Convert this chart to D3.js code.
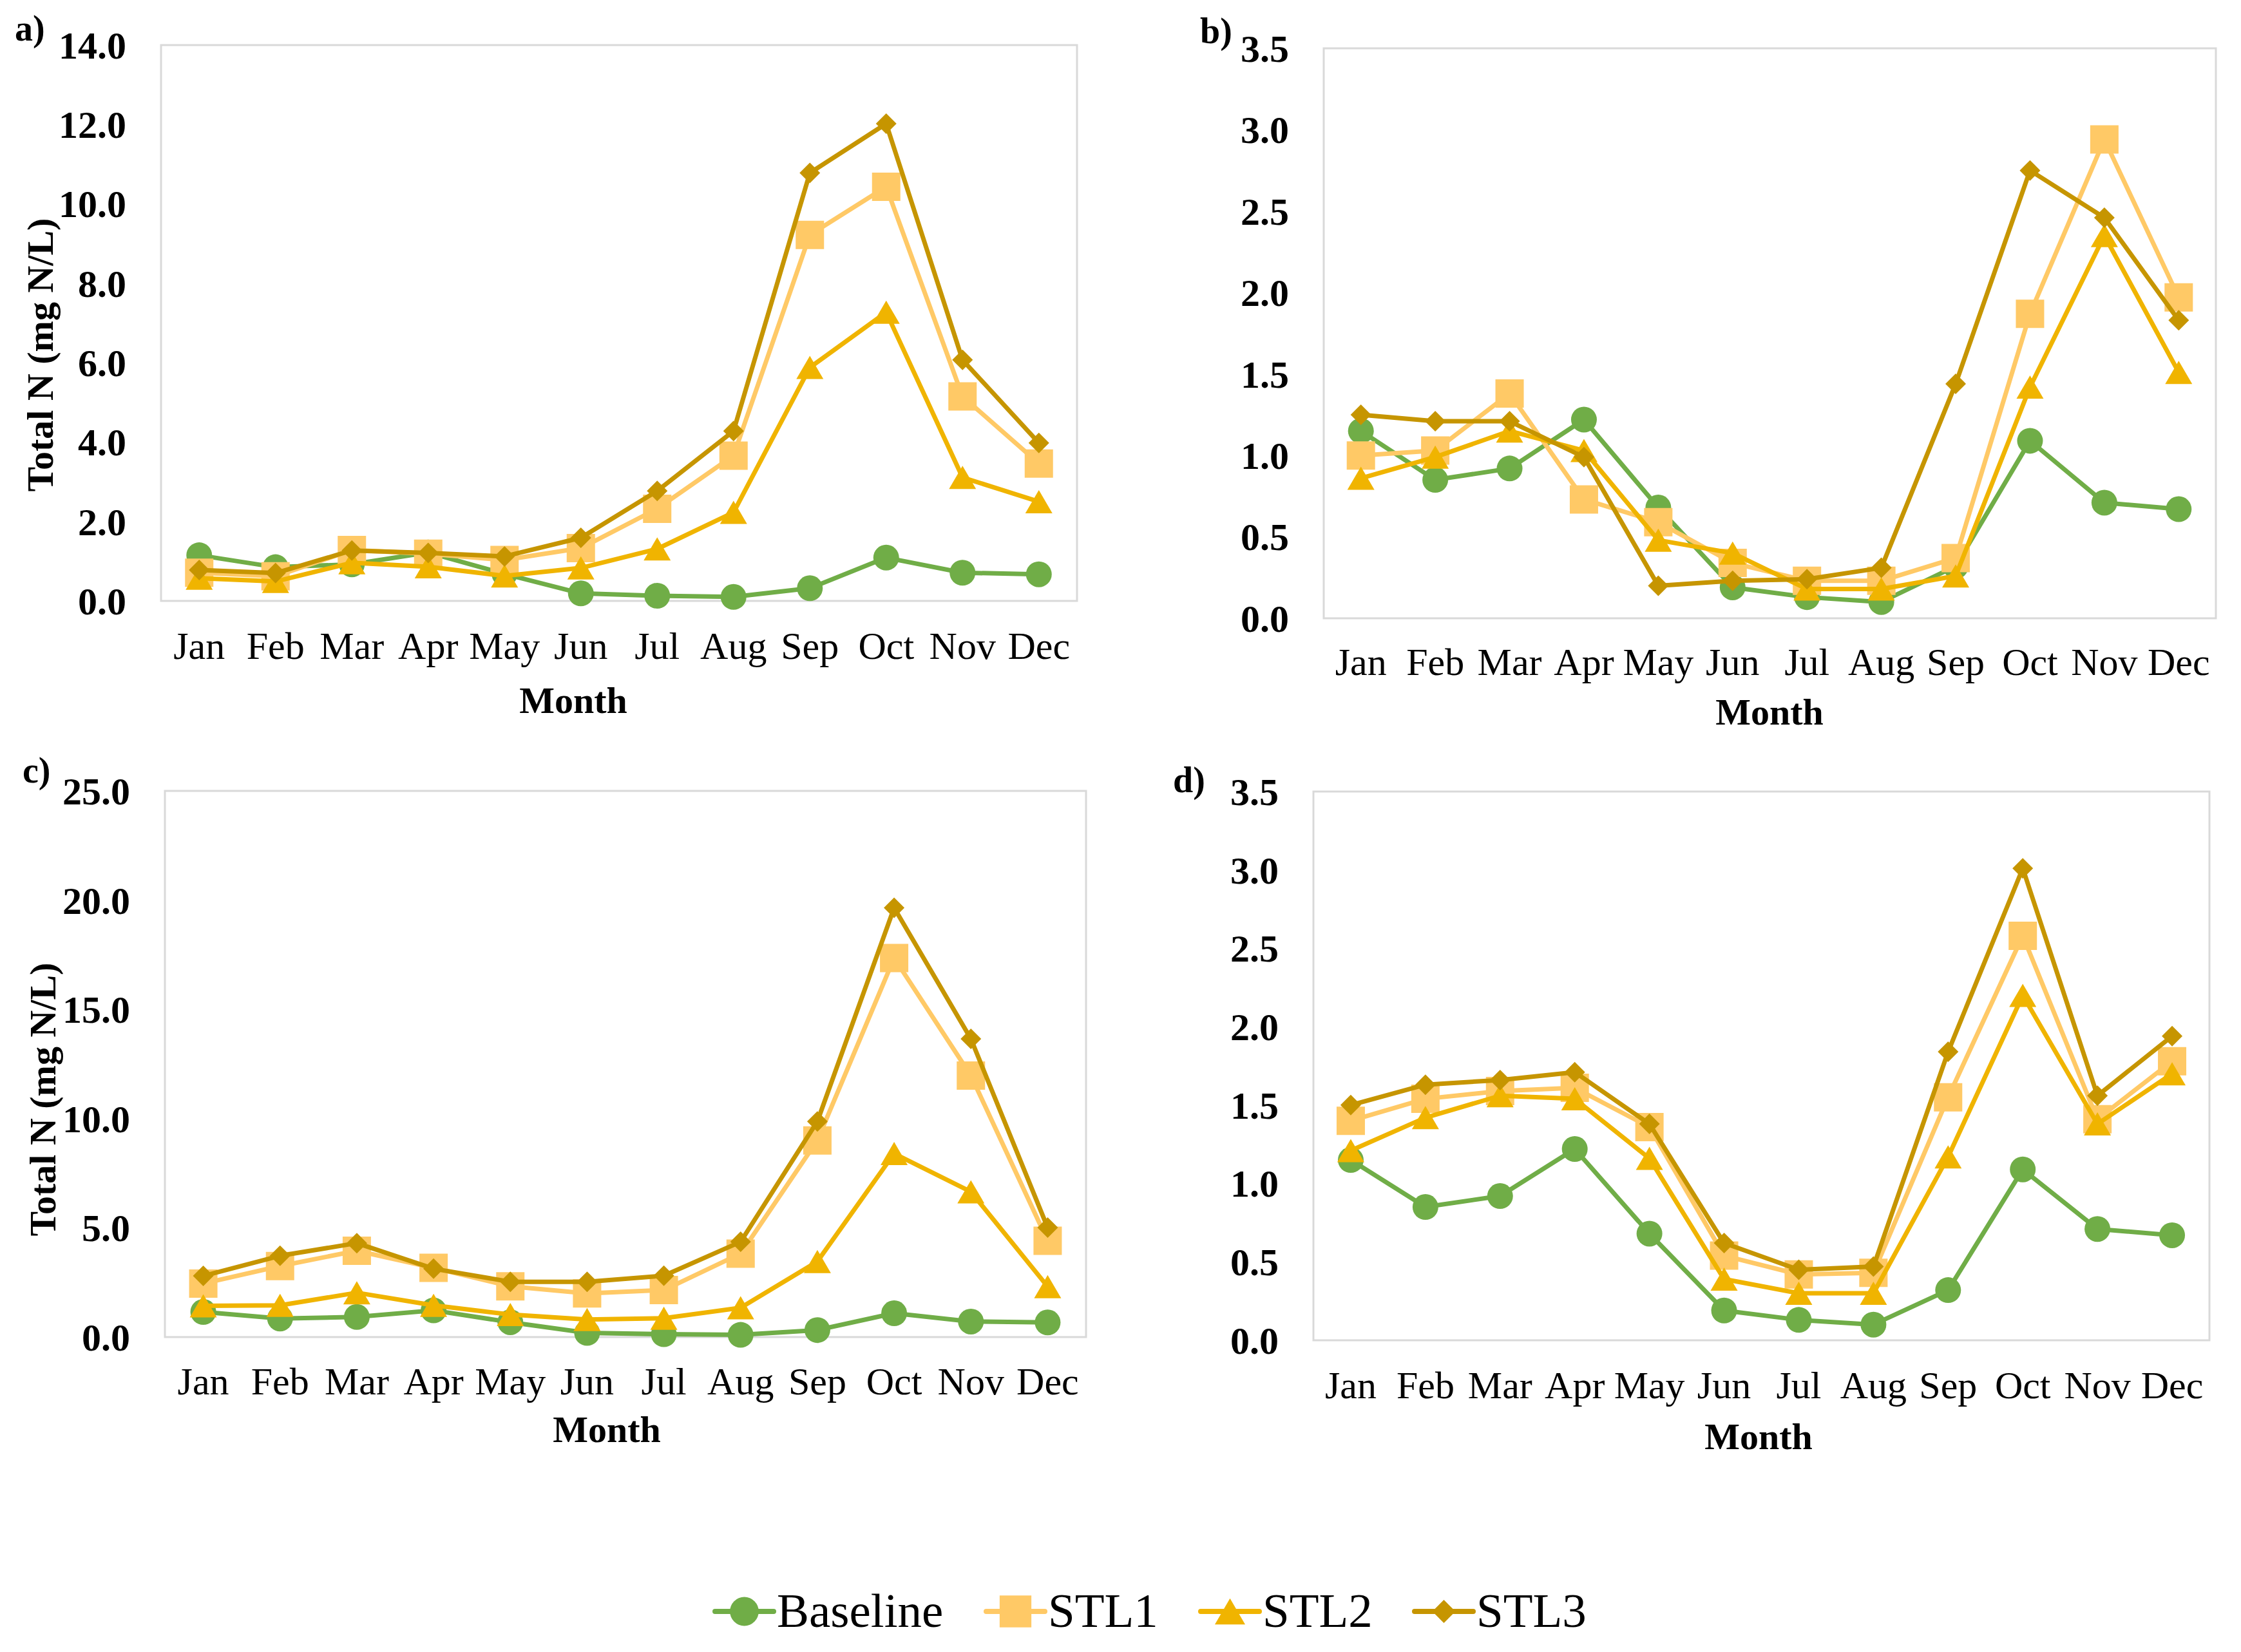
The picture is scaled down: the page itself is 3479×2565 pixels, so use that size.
<!DOCTYPE html>
<html>
<head>
<meta charset="utf-8">
<script src="https://cdnjs.cloudflare.com/ajax/libs/d3/7.8.5/d3.min.js"></script>
<style>
  body { margin: 0; background: #fff; }
  text { font-family: "Liberation Serif", "Times New Roman", serif; fill: #000; }
</style>
</head>
<body>
<script>
var months = ["Jan", "Feb", "Mar", "Apr", "May", "Jun", "Jul", "Aug", "Sep", "Oct", "Nov", "Dec"];
var seriesNames = ["Baseline", "STL1", "STL2", "STL3"];

// baseline is the same in all four panels
var baseline = [1.15, 0.85, 0.92, 1.22, 0.68, 0.19, 0.13, 0.10, 0.32, 1.09, 0.71, 0.67];

// panel a
var stl1A = [0.71, 0.62, 1.28, 1.19, 1.03, 1.33, 2.32, 3.66, 9.22, 10.43, 5.15, 3.46];
var stl2A = [0.57, 0.49, 0.96, 0.86, 0.63, 0.83, 1.31, 2.23, 5.88, 7.27, 3.11, 2.50];
var stl3A = [0.78, 0.70, 1.27, 1.21, 1.12, 1.59, 2.77, 4.28, 10.78, 12.02, 6.07, 3.98];
// panel b
var stl1B = [1.00, 1.03, 1.38, 0.73, 0.59, 0.34, 0.23, 0.23, 0.37, 1.87, 2.94, 1.97];
var stl2B = [0.86, 0.99, 1.15, 1.03, 0.48, 0.40, 0.18, 0.18, 0.26, 1.42, 2.35, 1.51];
var stl3B = [1.25, 1.21, 1.21, 0.99, 0.20, 0.23, 0.24, 0.31, 1.44, 2.75, 2.46, 1.83];
// panel c
var stl1C = [2.45, 3.25, 3.95, 3.17, 2.32, 2.00, 2.15, 3.82, 9.00, 17.35, 11.97, 4.41];
var stl2C = [1.43, 1.45, 2.03, 1.45, 1.03, 0.80, 0.86, 1.34, 3.46, 8.40, 6.65, 2.31];
var stl3C = [2.80, 3.72, 4.30, 3.13, 2.53, 2.53, 2.81, 4.36, 9.87, 19.65, 13.65, 5.01];
// panel d
var stl1D = [1.40, 1.54, 1.59, 1.61, 1.36, 0.54, 0.42, 0.43, 1.55, 2.58, 1.41, 1.78];
var stl2D = [1.21, 1.42, 1.56, 1.54, 1.16, 0.39, 0.30, 0.30, 1.17, 2.20, 1.38, 1.70];
var stl3D = [1.50, 1.63, 1.66, 1.71, 1.38, 0.62, 0.45, 0.47, 1.84, 3.01, 1.56, 1.94];

var ticksA = [0, 2, 4, 6, 8, 10, 12, 14];
var ticksB = [0, 0.5, 1, 1.5, 2, 2.5, 3, 3.5];
var ticksC = [0, 5, 10, 15, 20, 25];
var ticksD = [0, 0.5, 1, 1.5, 2, 2.5, 3, 3.5];

var colors = ["#70AD47", "#FFC966", "#F0B400", "#C69500"];
var shapes = ["circle", "square", "triangle", "diamond"];

var svg = d3.select("body").append("svg")
  .attr("width", 3479)
  .attr("height", 2565);

svg.append("rect").attr("width", 3479).attr("height", 2565).attr("fill", "#fff");

// marker path centred on 0,0; s = scale factor
function markerPath(shape, s) {
  var p = d3.path();
  if (shape == "circle") {
    var r = 20 * s;
    p.arc(0, 0, r, 0, 2 * Math.PI);
  } else if (shape == "square") {
    var h = 22 * s;
    p.rect(-h, -h, 2 * h, 2 * h);
  } else if (shape == "triangle") {
    var w = 21 * s, t = 18 * s;
    p.moveTo(0, -t); p.lineTo(w, t); p.lineTo(-w, t); p.closePath();
  } else {
    var d = 16 * s;
    p.moveTo(0, -d); p.lineTo(d, 0); p.lineTo(0, d); p.lineTo(-d, 0); p.closePath();
  }
  return p.toString();
}

var panels = [
  {label: "a)", lx: 23, ly: 63, L: 250, T: 70, R: 1672, B: 933, max: 14, ticks: ticksA,
   data: [baseline, stl1A, stl2A, stl3A], ytitle: [62, 551], xlab: 1023, month: [890, 1107]},
  {label: "b)", lx: 1863, ly: 67, L: 2055, T: 75, R: 3440, B: 960, max: 3.5, ticks: ticksB,
   data: [baseline, stl1B, stl2B, stl3B], ytitle: null, xlab: 1048, month: [2747, 1125]},
  {label: "c)", lx: 35, ly: 1215, L: 256, T: 1228, R: 1686, B: 2076, max: 25, ticks: ticksC,
   data: [baseline, stl1C, stl2C, stl3C], ytitle: [66, 1707], xlab: 2165, month: [942, 2239]},
  {label: "d)", lx: 1821, ly: 1230, L: 2039, T: 1229, R: 3430, B: 2081, max: 3.5, ticks: ticksD,
   data: [baseline, stl1D, stl2D, stl3D], ytitle: null, xlab: 2171, month: [2730, 2250]}
];

panels.forEach(drawPanel);

function drawPanel(cfg) {
  var g = svg.append("g");

  var x = d3.scaleBand().domain(months).range([cfg.L, cfg.R]);
  var y = d3.scaleLinear().domain([0, cfg.max]).range([cfg.B, cfg.T]);
  var cx = function(d, i) { return x(months[i]) + x.bandwidth() / 2; };

  g.append("rect")
    .attr("x", cfg.L).attr("y", cfg.T)
    .attr("width", cfg.R - cfg.L).attr("height", cfg.B - cfg.T)
    .attr("fill", "#fff")
    .attr("stroke", "#D9D9D9")
    .attr("stroke-width", 3);

  // y axis
  var yAxis = g.append("g")
    .attr("transform", "translate(" + cfg.L + ",0)")
    .call(d3.axisLeft(y).tickValues(cfg.ticks).tickFormat(d3.format(".1f")).tickSize(0).tickPadding(54));
  yAxis.select(".domain").remove();
  yAxis.selectAll("text")
    .attr("font-family", "Liberation Serif")
    .attr("font-weight", "bold")
    .attr("font-size", 60)
    .attr("dy", "0.34em");

  // x axis
  var xAxis = g.append("g")
    .attr("transform", "translate(0," + cfg.B + ")")
    .call(d3.axisBottom(x).tickSize(0));
  xAxis.select(".domain").remove();
  xAxis.selectAll("text")
    .attr("font-family", "Liberation Serif")
    .attr("font-size", 60)
    .attr("y", cfg.xlab - cfg.B)
    .attr("dy", 0);

  // panel label
  g.append("text")
    .attr("x", cfg.lx).attr("y", cfg.ly)
    .attr("font-size", 56)
    .attr("font-weight", "bold")
    .text(cfg.label);

  if (cfg.ytitle) {
    g.append("text")
      .attr("transform", "translate(" + cfg.ytitle[0] + "," + cfg.ytitle[1] + ") rotate(-90)")
      .attr("text-anchor", "middle")
      .attr("dy", "0.34em")
      .attr("font-size", 58)
      .attr("font-weight", "bold")
      .text("Total N (mg N/L)");
  }

  g.append("text")
    .attr("x", cfg.month[0]).attr("y", cfg.month[1])
    .attr("text-anchor", "middle")
    .attr("font-size", 58)
    .attr("font-weight", "bold")
    .text("Month");

  var line = d3.line().x(cx).y(function(d) { return y(d); });

  cfg.data.forEach(function(vals, k) {
    var sg = g.append("g");
    sg.append("path")
      .datum(vals)
      .attr("d", line)
      .attr("fill", "none")
      .attr("stroke", colors[k])
      .attr("stroke-width", 7)
      .attr("stroke-linejoin", "round")
      .attr("stroke-linecap", "round");

    sg.selectAll("path.marker")
      .data(vals)
      .enter()
      .append("path")
      .attr("class", "marker")
      .attr("transform", function(d, i) { return "translate(" + cx(d, i) + "," + y(d) + ")"; })
      .attr("d", markerPath(shapes[k], 1))
      .attr("fill", colors[k]);
  });
}

// legend
var legendX = [1110, 1531, 1864, 2196];
var legendY = 2502;

var legend = svg.append("g");
seriesNames.forEach(function(name, k) {
  var lg = legend.append("g").attr("transform", "translate(" + legendX[k] + "," + legendY + ")");
  lg.append("line")
    .attr("x1", 0).attr("x2", 91)
    .attr("y1", 0).attr("y2", 0)
    .attr("stroke", colors[k])
    .attr("stroke-width", 8)
    .attr("stroke-linecap", "round");
  lg.append("path")
    .attr("transform", "translate(45.5,0)")
    .attr("d", markerPath(shapes[k], 1.12))
    .attr("fill", colors[k]);
  lg.append("text")
    .attr("x", 96)
    .attr("y", 24)
    .attr("font-size", 75)
    .text(name);
});
</script>
</body>
</html>
